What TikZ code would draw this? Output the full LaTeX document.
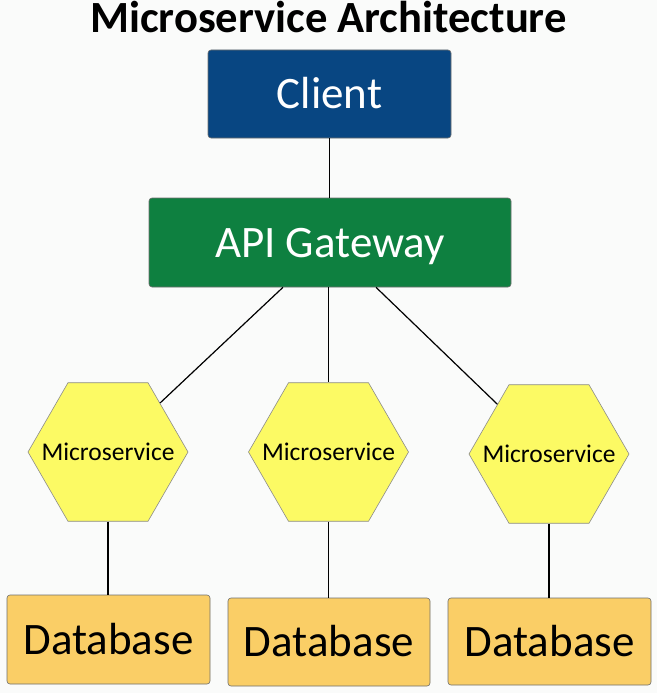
\documentclass[tikz,border=0pt]{standalone}
\usepackage{fontspec}
\setmainfont{Carlito}
\usetikzlibrary{shapes.geometric}
\definecolor{clientblue}{RGB}{8,70,130}
\definecolor{gwgreen}{RGB}{14,128,64}
\definecolor{hexyellow}{RGB}{252,250,100}
\definecolor{dborange}{RGB}{250,206,102}
\definecolor{edgegray}{RGB}{110,110,110}
\definecolor{bgcol}{RGB}{250,251,250}
\begin{document}
\begin{tikzpicture}[x=1pt,y=-1pt,
  box/.style={draw=edgegray, line width=0.6pt, rounded corners=3pt, inner sep=0pt, text depth=0pt},
  bigtext/.style={font=\fontsize{45}{50}\selectfont, text height=29pt},
  hexnode/.style={regular polygon, regular polygon sides=6, minimum size=160pt, inner sep=0pt,
    fill=hexyellow, draw=edgegray!80, line width=0.6pt},
  mstext/.style={font=\fontsize{25.5}{28}\selectfont, text height=16pt, text depth=0pt, inner sep=0pt},
  link/.style={line width=1.2pt, black}]
\fill[bgcol] (0,0) rectangle (657,693);
\useasboundingbox (0,0) rectangle (657,693);

\node[anchor=base, font=\fontsize{44.6}{50}\selectfont\bfseries] (title) at (328.5,33) {Microservice Architecture};

\node[box, bigtext, fill=clientblue, text=white, minimum width=243pt, minimum height=88pt] (client) at (329.5,94) {Client};
\node[box, bigtext, fill=gwgreen, text=white, minimum width=362pt, minimum height=89pt] (gw) at (330,242.5) {API Gateway};

\node[hexnode] (ms1) at (108,452) {};
\node[hexnode] (ms2) at (328.5,452) {};
\node[hexnode] (ms3) at (549,454) {};
\node[mstext] (ms1t) at (ms1.center) {Microservice};
\node[mstext] (ms2t) at (ms2.center) {Microservice};
\node[mstext] (ms3t) at (ms3.center) {Microservice};

\node[box, bigtext, fill=dborange, text=black, minimum width=203pt, minimum height=89pt] (db1) at (108.5,639.5) {Database};
\node[box, bigtext, fill=dborange, text=black, minimum width=202pt, minimum height=88pt] (db2) at (329,642) {Database};
\node[box, bigtext, fill=dborange, text=black, minimum width=203pt, minimum height=87pt] (db3) at (549.5,641.5) {Database};

\draw[link] (client.south) -- (client.south |- gw.north);
\draw[link] ([xshift=-47pt]gw.south) -- (ms1);
\draw[link] (ms2.north |- gw.south) -- (ms2.north);
\draw[link] ([xshift=46pt]gw.south) -- (ms3);
\draw[link] (ms1.south) -- (ms1.south |- db1.north);
\draw[link] (ms2.south) -- (ms2.south |- db2.north);
\draw[link] (ms3.south) -- (ms3.south |- db3.north);
\end{tikzpicture}
\end{document}
